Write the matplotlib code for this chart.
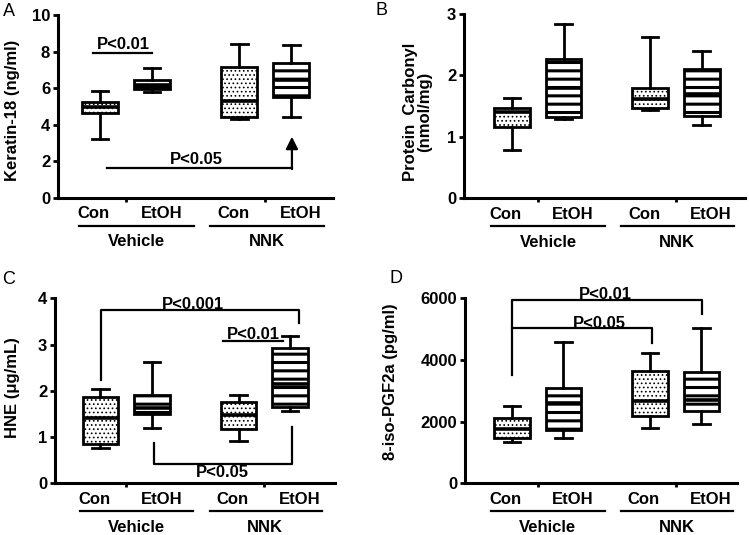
import numpy as np
import matplotlib
matplotlib.use('Agg')
import matplotlib.pyplot as plt
from matplotlib.transforms import blended_transform_factory

plt.rcParams['font.family'] = ['Liberation Sans', 'DejaVu Sans']
plt.rcParams['font.weight'] = 'bold'
plt.rcParams['font.size'] = 12
plt.rcParams['hatch.linewidth'] = 2.2

# categories
conditions = ['Con', 'EtOH', 'Con', 'EtOH']
groups = ['Vehicle', 'NNK']

# A: Keratin-18 (ng/ml)
k18_lo = [3.20, 5.79, 4.30, 4.44]
k18_q1 = [4.63, 5.94, 4.41, 5.54]
k18_med = [4.95, 6.17, 5.32, 6.45]
k18_q3 = [5.26, 6.45, 7.14, 7.36]
k18_hi = [5.86, 7.09, 8.40, 8.34]

# B: Protein carbonyl (nmol/mg)
pc_lo = [0.79, 1.29, 1.44, 1.19]
pc_q1 = [1.16, 1.32, 1.47, 1.33]
pc_med = [1.41, 1.80, 1.61, 1.70]
pc_q3 = [1.46, 2.26, 1.80, 2.10]
pc_hi = [1.63, 2.84, 2.63, 2.39]

# C: HNE (ug/mL)
hne_lo = [0.76, 1.19, 0.91, 1.56]
hne_q1 = [0.86, 1.50, 1.17, 1.66]
hne_med = [1.42, 1.62, 1.47, 2.15]
hne_q3 = [1.86, 1.91, 1.75, 2.93]
hne_hi = [2.05, 2.62, 1.92, 3.19]

# D: 8-iso-PGF2a (pg/ml)
iso_lo = [1330, 1459, 1784, 1913]
iso_q1 = [1459, 1730, 2184, 2345]
iso_med = [1762, 2600, 2670, 2700]
iso_q3 = [2108, 3101, 3643, 3621]
iso_hi = [2507, 4572, 4237, 5026]

pos = [1, 2, 3.68, 4.68]
hatches = ['....', '--', '....', '--']
hatch_lw = [0.7, 2.2, 0.7, 2.2]


def make_stats(lo, q1, med, q3, hi):
    return [dict(whislo=a, q1=b, med=c, q3=d, whishi=e, fliers=[])
            for a, b, c, d, e in zip(lo, q1, med, q3, hi)]


def panel(ax, stats, ylim, yticks, ylabel, xlim, labx):
    ax.set_xlim(*xlim)
    ax.set_ylim(*ylim)
    bp = ax.bxp(stats, positions=pos, widths=0.69, capwidths=0.32,
                patch_artist=True, showfliers=False,
                boxprops=dict(lw=2.0, edgecolor='k', facecolor='white'),
                medianprops=dict(color='k', lw=2.6),
                whiskerprops=dict(color='k', lw=2.0),
                capprops=dict(color='k', lw=2.0))
    for b, h, hl in zip(bp['boxes'], hatches, hatch_lw):
        b.set_hatch(h)
        if hasattr(b, 'set_hatch_linewidth'):
            b.set_hatch_linewidth(hl)
    for s in ['top', 'right']:
        ax.spines[s].set_visible(False)
    for s in ['left', 'bottom']:
        ax.spines[s].set_linewidth(2.2)
    ax.set_yticks(yticks)
    ax.set_xticks([1.5, 4.18])
    ax.set_xticklabels([])
    ax.tick_params(axis='y', width=2.0, length=3.6, labelsize=12, pad=2)
    ax.tick_params(axis='x', width=2.0, length=3.2)
    ax.set_ylabel(ylabel, fontsize=12, fontweight='bold', linespacing=1.0)
    ax.yaxis.set_label_coords(*labx)
    tr = blended_transform_factory(ax.transData, ax.transAxes)
    offs = [-0.12, 0.18, -0.12, 0.18]
    for p, o, c in zip(pos, offs, conditions):
        ax.text(p + o, -0.087, c, transform=tr, ha='center', va='center', fontsize=12)
    for (x0, x1), xc, g in zip([(0.6, 2.8), (3.12, 5.3)], [1.7, 4.2], groups):
        ax.plot([x0, x1], [-0.152, -0.152], color='k', lw=1.6, transform=tr, clip_on=False)
        ax.text(xc, -0.24, g, transform=tr, ha='center', va='center', fontsize=12)


fig = plt.figure(figsize=(7.49, 5.35), dpi=100)
axA = fig.add_axes([0.0774, 0.6299, 0.3672, 0.3421])
axB = fig.add_axes([0.6195, 0.6299, 0.3752, 0.3439])
axC = fig.add_axes([0.0734, 0.0966, 0.3738, 0.3458])
axD = fig.add_axes([0.6208, 0.0966, 0.3632, 0.3458])

panel(axA, make_stats(k18_lo, k18_q1, k18_med, k18_q3, k18_hi), (0, 10),
      [0, 2, 4, 6, 8, 10], 'Keratin-18 (ng/ml)', (0.19, 5.48), (-0.137, 0.48))
panel(axB, make_stats(pc_lo, pc_q1, pc_med, pc_q3, pc_hi), (0, 3),
      [0, 1, 2, 3], 'Protein  Carbonyl\n(nmol/mg)', (0.07, 5.52), (-0.112, 0.47))
panel(axC, make_stats(hne_lo, hne_q1, hne_med, hne_q3, hne_hi), (0, 4),
      [0, 1, 2, 3, 4], 'HNE (\u03bcg/mL)', (0.12, 5.55), (-0.124, 0.52))
panel(axD, make_stats(iso_lo, iso_q1, iso_med, iso_q3, iso_hi), (0, 6000),
      [0, 2000, 4000, 6000], '8-iso-PGF2a (pg/ml)', (0.09, 5.37), (-0.248, 0.55))

blw = 1.6
# A annotations
axA.plot([0.87, 1.99], [7.91, 7.91], color='k', lw=blw)
axA.text(1.44, 8.0, 'P<0.01', ha='center', va='bottom')
axA.plot([1.14, 4.69], [1.62, 1.62], color='k', lw=blw)
axA.annotate('', xy=(4.69, 3.35), xytext=(4.69, 1.58),
             arrowprops=dict(arrowstyle='-|>', lw=blw, color='k', mutation_scale=18,
                             shrinkA=0, shrinkB=0))
axA.text(2.86, 1.72, 'P<0.05', ha='center', va='bottom')

# C annotations
axC.plot([1.02, 1.02, 4.85, 4.85], [2.23, 3.75, 3.75, 3.47], color='k', lw=blw, clip_on=False)
axC.text(2.80, 3.70, 'P<0.001', ha='center', va='bottom')
axC.plot([3.38, 4.54], [3.08, 3.08], color='k', lw=blw)
axC.text(3.96, 3.06, 'P<0.01', ha='center', va='bottom')
axC.plot([2.04, 2.04, 4.71, 4.71], [0.88, 0.42, 0.42, 1.22], color='k', lw=blw)
axC.text(3.37, 0.40, 'P<0.05', ha='center', va='top')

# D annotations
axD.plot([1.0, 1.0, 4.69, 4.69], [3513, 5950, 5950, 5491], color='k', lw=blw, clip_on=False)
axD.text(2.81, 5880, 'P<0.01', ha='center', va='bottom')
axD.plot([1.0, 3.72, 3.72], [5026, 5026, 4561], color='k', lw=blw)
axD.text(2.70, 4950, 'P<0.05', ha='center', va='bottom')

# panel letters
for x, y, t in [(0.012, 0.9785, 'A'), (0.509, 0.981, 'B'), (0.012, 0.477, 'C'), (0.529, 0.480, 'D')]:
    fig.text(x, y, t, ha='center', va='center', fontsize=13, fontweight='normal')

fig.savefig('out.png', dpi=100)
